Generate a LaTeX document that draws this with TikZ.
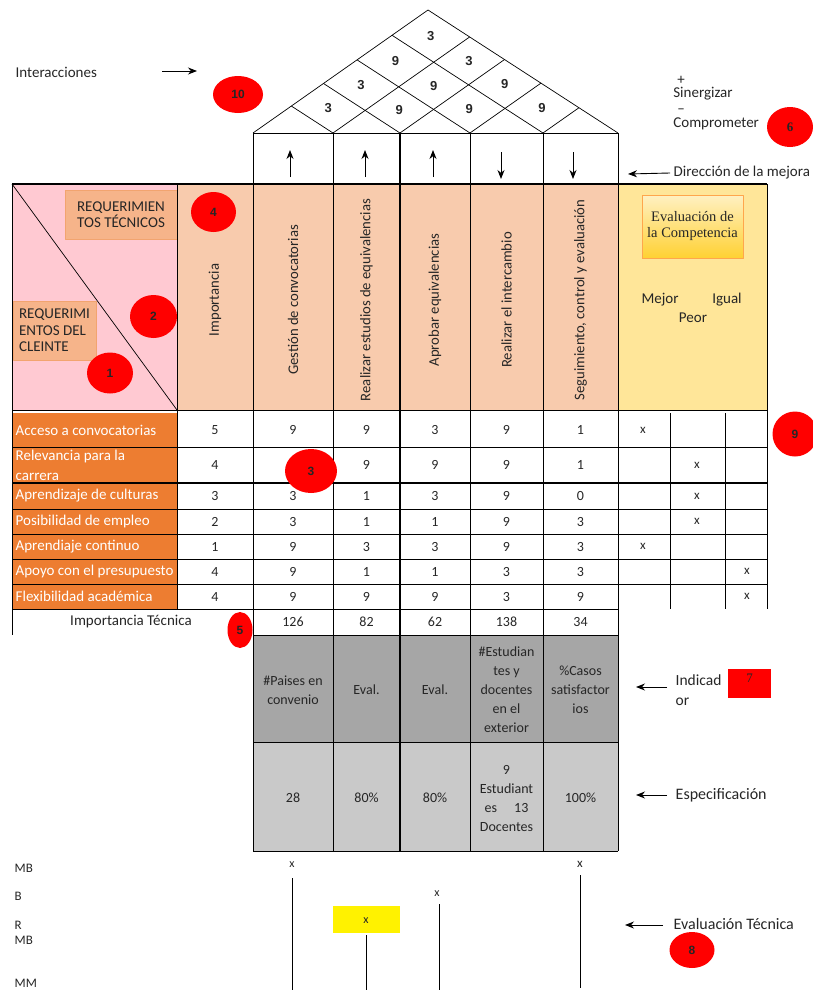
\documentclass[tikz,border=0pt]{standalone}
\usepackage{fontspec}
\setmainfont{Carlito}
\newfontfamily\letraromana{Liberation Serif}
\newfontfamily\letrapalo{Liberation Sans}
\usetikzlibrary{shapes.geometric,arrows.meta}
\definecolor{rosa}{HTML}{FFC9D2}
\definecolor{durazno}{HTML}{F8CBAD}
\definecolor{naranja}{HTML}{ED7D31}
\definecolor{salmon}{HTML}{F6B48A}
\definecolor{amarillo}{HTML}{FFE699}
\definecolor{gris}{HTML}{A6A6A6}
\definecolor{grisclaro}{HTML}{C9C9C9}
\definecolor{tinta}{HTML}{262626}
\tikzset{
  marca/.style={ellipse, fill=red, inner sep=0pt, text=tinta,
    font=\letrapalo\bfseries\fontsize{12}{12}\selectfont},
  flecha/.style={-{Stealth[length=9pt,width=7pt]}, line width=0.9pt},
  valor/.style={text=tinta, font=\fontsize{14}{19}\selectfont, align=center},
  etiq/.style={text=white, anchor=west, align=left, font=\fontsize{15}{20}\selectfont},
  titulo/.style={rotate=90, text=tinta, font=\fontsize{14.7}{16}\selectfont},
  nota/.style={text=tinta, anchor=west, font=\fontsize{15}{20}\selectfont, align=left},
  techo/.style={text=tinta, font=\letrapalo\bfseries\fontsize{13}{13}\selectfont},
  cajareq/.style={draw=naranja!70, fill=salmon, inner sep=3pt, text=tinta,
    font=\fontsize{15}{16.5}\selectfont},
  grueso/.style={line width=1.6pt}
}
\begin{document}
\begin{tikzpicture}[x=1pt,y=-1pt,line join=round,line width=0.7pt]
\useasboundingbox (0,0) rectangle (812,990);
\def\cx{{253,333,400,470,543,618}}
\def\mx{{293,366.5,435,506.5,580.5}}
% techo de interacciones
\draw (253,133) -- (428,10) -- (618,133);
\foreach \k in {1,...,4}{
  \pgfmathsetmacro\xk{\cx[\k]}
  \pgfmathsetmacro\f{(\xk-253)/365}
  \draw (\xk,133) -- ++({(1-\f)*175},{-(1-\f)*123});
  \draw (\xk,133) -- ++({-\f*190},{-\f*123});
}
\foreach \i/\j/\v in {1/2/3,2/3/9,3/4/9,4/5/9,1/3/3,2/4/9,3/5/9,1/4/9,2/5/3,1/5/3}{
  \pgfmathtruncatemacro\ia{\i-1}
  \pgfmathtruncatemacro\ja{\j-1}
  \pgfmathsetmacro\mi{\mx[\ia]}
  \pgfmathsetmacro\mj{\mx[\ja]}
  \pgfmathsetmacro\d{(\mj-\mi)/365}
  \node[techo] (t\i\j) at ({\mi+\d*175},{133-\d*123}) {\v};
}
% direccion de la mejora
\foreach \x in {290,365,433} \draw[flecha] (\x,177) -- (\x,150);
\foreach \x in {501,573} \draw[flecha] (\x,152) -- (\x,179);
% cabecera
\fill[rosa] (12,184) rectangle (177,410);
\fill[durazno] (177,184) rectangle (618,410);
\fill[amarillo] (618,184) rectangle (767,410);
\draw (12,184) -- (177,410);
\node[cajareq, align=right, minimum width=112pt, minimum height=49pt] (rtec) at (121,214.5)
  {REQUERIMIEN\\TOS TÉCNICOS};
\node[cajareq, align=left, minimum width=83pt, minimum height=59pt] (rcli) at (54.5,330.5)
  {REQUERIMI\\ENTOS DEL\\CLEINTE};
\node[titulo] (himp) at (215,300) {Importancia};
\foreach \t [count=\c] in {Gestión de convocatorias,Realizar estudios de equivalencias,
  Aprobar equivalencias,Realizar el intercambio,{Seguimiento, control y evaluación}}{
  \pgfmathtruncatemacro\ic{\c-1}
  \pgfmathsetmacro\xm{\mx[\ic]}
  \node[titulo] (h\c) at (\xm,300) {\t};
}
\node[draw=orange!70, top color=amarillo!60, bottom color=orange!45!yellow!80, minimum width=101pt,
  minimum height=63pt, align=center, text=tinta, font=\letraromana\fontsize{14.5}{16}\selectfont]
  (evc) at (692.5,226.5) {Evaluación de\\la Competencia};
\node[valor, font=\fontsize{15}{19}\selectfont] (mej) at (660,300) {Mejor};
\node[valor, font=\fontsize{15}{19}\selectfont] (igu) at (727,300) {Igual};
\node[valor, font=\fontsize{15}{19}\selectfont] (peo) at (693,318) {Peor};
% matriz de relaciones
\foreach \r/\yt/\yb/\lab/\imp/\va/\vb/\vc/\vd/\ve/\cp in {
  1/413/447/Acceso a convocatorias/5/9/9/3/9/1/0,
  2/447/483/{Relevancia para la\\carrera}/4//9/9/9/1/1,
  3/483/509/Aprendizaje de culturas/3/3/1/3/9/0/1,
  4/509/534/Posibilidad de empleo/2/3/1/1/9/3/1,
  5/534/559/Aprendiaje continuo/1/9/3/3/9/3/0,
  6/559/584/Apoyo con el presupuesto/4/9/1/1/3/3/2,
  7/584/609/Flexibilidad académica/4/9/9/9/3/9/2}{
  \pgfmathsetmacro\yc{(\yt+\yb)/2}
  \pgfmathsetmacro\xc{{643,697,747}[\cp]}
  \fill[naranja] (12,\yt) rectangle (177,\yb);
  \node[etiq] (req\r) at (12,\yc) {\lab};
  \node[valor] (imp\r) at (215,\yc) {\imp};
  \node[valor] (v\r-1) at (293,\yc) {\va};
  \node[valor] (v\r-2) at (366.5,\yc) {\vb};
  \node[valor] (v\r-3) at (435,\yc) {\vc};
  \node[valor] (v\r-4) at (506.5,\yc) {\vd};
  \node[valor] (v\r-5) at (580.5,\yc) {\ve};
  \node[valor, font=\fontsize{13}{13}\selectfont] (cmp\r) at (\xc,\yc) {x};
}
\node[marca, minimum width=25pt, minimum height=36pt] (m5) at (240,630) {5};
\node[valor, font=\fontsize{15}{19}\selectfont] (itec) at (131,622) {Importancia Técnica};
\foreach \v [count=\c] in {126,82,62,138,34}{
  \pgfmathtruncatemacro\ic{\c-1}
  \pgfmathsetmacro\xm{\mx[\ic]}
  \node[valor] (it\c) at (\xm,622) {\v};
}
% indicadores y especificaciones
\fill[gris] (253,635) rectangle (618,742);
\fill[grisclaro] (253,742) rectangle (618,851);
\foreach \t [count=\c] in {{\#Paises en\\convenio},Eval.,Eval.,
  {\#Estudian\\tes y\\docentes\\en el\\exterior},{\%Casos\\satisfactor\\ios}}{
  \pgfmathtruncatemacro\ic{\c-1}
  \pgfmathsetmacro\xm{\mx[\ic]}
  \node[valor] (ind\c) at (\xm,690) {\t};
}
\foreach \t [count=\c] in {28,80\%,80\%,{9\\Estudiant\\es\quad\ 13\\Docentes},100\%}{
  \pgfmathtruncatemacro\ic{\c-1}
  \pgfmathsetmacro\xm{\mx[\ic]}
  \node[valor] (esp\c) at (\xm,798) {\t};
}
% lineas de la tabla
\draw (253,133) rectangle (618,183);
\draw[grueso] (12,184) -- (767,184);
\draw (12,184) -- (12,635) (177,184) -- (177,609) (767,184) -- (767,609);
\foreach \k in {0,1,3,4,5}{
  \pgfmathsetmacro\xk{\cx[\k]}
  \draw (\xk,133) -- (\xk,851);
}
\draw[grueso] (400,133) -- (400,851);
\draw (670,413) -- (670,609) (725,413) -- (725,609);
\foreach \y in {410,447,509,534,559,584}
  \draw (12,\y) -- (767,\y);
\draw[grueso] (12,483) -- (767,483);
\draw (12,609) -- (618,609);
\draw (253,635) -- (618,635) (253,742) -- (618,742) (253,851) -- (618,851);
% evaluacion tecnica
\foreach \t/\y [count=\c] in {MB/868,B/896,R/925,MB/940,MM/983}
  \node[nota, font=\fontsize{13}{13}\selectfont] (esc\c) at (11,\y) {\t};
\fill[yellow] (333,906) rectangle (400,933);
\node[valor, font=\fontsize{12}{12}\selectfont] (ev1) at (292,865) {x};
\node[valor, font=\fontsize{12}{12}\selectfont] (ev2) at (366,921) {x};
\node[valor, font=\fontsize{12}{12}\selectfont] (ev3) at (437,894) {x};
\node[valor, font=\fontsize{13}{13}\selectfont] (ev5) at (580,864) {x};
\coordinate (b1) at (292,990);
\coordinate (b2) at (366,990);
\coordinate (b3) at (439,990);
\coordinate (b5) at (580,988);
\draw (292,878) -- (b1);
\draw (366,935) -- (b2);
\draw (439,904) -- (b3);
\draw (580,875) -- (b5);
% anotaciones
\node[nota] (inter) at (12,72) {Interacciones};
\coordinate (pinter) at (197,71);
\draw[flecha] (162,71) -- (pinter);
\node[nota, inner sep=0pt, font=\fontsize{15}{15}\selectfont] (mas) at (677,80) {+};
\node[nota, inner sep=0pt] (siner) at (673,94) {Sinergizar};
\node[nota, inner sep=0pt, font=\fontsize{15}{15}\selectfont] (menos) at (677,111) {--};
\node[nota, inner sep=0pt] (compr) at (673,124) {Comprometer};
\node[nota] (dir) at (670,173) {Dirección de la mejora};
\coordinate (pdir) at (628,174);
\draw[flecha] (dir.west) -- (pdir);
\node[nota, font=\fontsize{15.5}{20}\selectfont] (indic) at (672,690) {Indicad\\or};
\coordinate (pind) at (636,687);
\draw[flecha] (667,687) -- (pind);
\node[fill=red, minimum width=43pt, minimum height=29pt, inner sep=0pt, text height=9pt,
  text depth=12pt, text=tinta, font=\letraromana\fontsize{13}{13}\selectfont] (m7) at (749.5,683.5) {7};
\node[nota, font=\fontsize{16}{20}\selectfont] (espec) at (672,795) {Especificación};
\coordinate (pesp) at (636,795);
\draw[flecha] (667,795) -- (pesp);
\node[nota, font=\fontsize{16}{20}\selectfont] (evtec) at (670,924) {Evaluación Técnica};
\coordinate (pevt) at (625,925);
\draw[flecha] (663,925) -- (pevt);
% marcas rojas
\node[marca, minimum width=50pt, minimum height=37pt] (m10) at (238,94.5) {10};
\node[marca, minimum width=46pt, minimum height=40pt, font=\letraromana\bfseries\fontsize{13}{13}\selectfont]
  (m6) at (790,127) {6};
\node[marca, minimum width=45pt, minimum height=40pt] (m4) at (213.5,212) {4};
\node[marca, minimum width=47pt, minimum height=43pt] (m2) at (153.5,316.5) {2};
\node[marca, minimum width=46pt, minimum height=41pt] (m1) at (110,373) {1};
\node[marca, minimum width=52pt, minimum height=44pt] (m3) at (311,471) {3};
\node[marca, minimum width=45pt, minimum height=45pt] (m9) at (795,434) {9};
\node[marca, minimum width=45pt, minimum height=36pt] (m8) at (692,950) {8};
\end{tikzpicture}
\end{document}
